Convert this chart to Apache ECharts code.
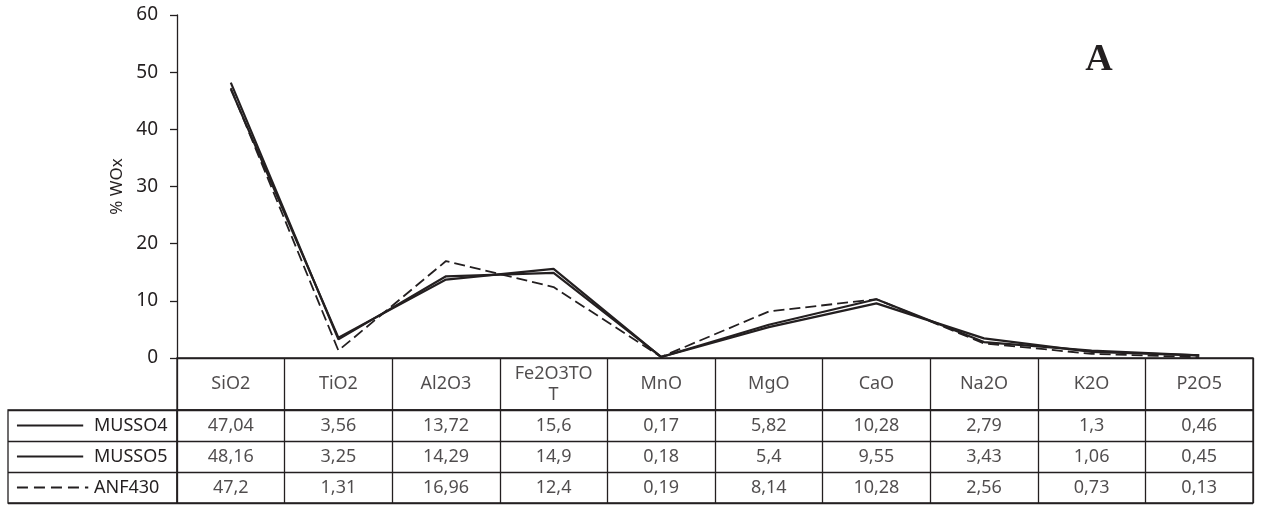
<!DOCTYPE html>
<html>
<head>
<meta charset="utf-8">
<title>Oxydes</title>
<script src="https://cdn.jsdelivr.net/npm/echarts@6/dist/echarts.min.js"></script>
<style>
  html, body { margin: 0; padding: 0; background: #ffffff; }
  #chart { width: 1263px; height: 505px; }
</style>
</head>
<body>
<div id="chart"></div>
<script>
// données du tableau
const categories = ['SiO2', 'TiO2', 'Al2O3', 'Fe2O3TOT', 'MnO', 'MgO', 'CaO', 'Na2O', 'K2O', 'P2O5'];
const sampleNames = ['MUSSO4', 'MUSSO5', 'ANF430'];
const musso4 = [47.04, 3.56, 13.72, 15.6, 0.17, 5.82, 10.28, 2.79, 1.3, 0.46];
const musso5 = [48.16, 3.25, 14.29, 14.9, 0.18, 5.4, 9.55, 3.43, 1.06, 0.45];
const anf430 = [47.2, 1.31, 16.96, 12.4, 0.19, 8.14, 10.28, 2.56, 0.73, 0.13];
const yTicks = [0, 10, 20, 30, 40, 50, 60];

const sampleValues = [musso4, musso5, anf430];
const ink = '#231f20';
const font = 'Noto Sans';
const lineStyles = [
  { type: 'solid', width: 2.2 },
  { type: 'solid', width: 2.2 },
  { type: [11, 5], width: 1.8 }
];

const chart = echarts.init(document.getElementById('chart'));

// courbes
const lineSeries = sampleNames.map((name, i) => ({
  name: name,
  type: 'line',
  xAxisIndex: 0,
  yAxisIndex: 0,
  symbol: 'none',
  data: sampleValues[i],
  lineStyle: { color: ink, width: lineStyles[i].width, type: lineStyles[i].type },
  z: 5
}));

// en-tête du tableau
const headerSeries = {
  type: 'scatter',
  xAxisIndex: 1,
  yAxisIndex: 1,
  symbolSize: 1,
  itemStyle: { color: 'rgba(0,0,0,0)' },
  data: categories.map(c => [c, 0.5]),
  label: {
    show: true,
    position: 'inside',
    color: ink,
    fontFamily: font,
    fontSize: 18,
    lineHeight: 21,
    formatter: p => {
      const s = p.value[0];
      return s.length > 7 ? s.slice(0, 7) + '\n' + s.slice(7) : s;
    }
  },
  silent: true
};

// valeurs du tableau
const cellSeries = sampleNames.map((name, i) => ({
  type: 'scatter',
  xAxisIndex: 2,
  yAxisIndex: 2,
  symbolSize: 1,
  itemStyle: { color: 'rgba(0,0,0,0)' },
  data: categories.map((c, j) => [c, name, sampleValues[i][j]]),
  label: {
    show: true,
    position: 'inside',
    color: ink,
    fontFamily: font,
    fontSize: 18,
    formatter: p => String(p.value[2]).replace('.', ',')
  },
  silent: true
}));

// traits de légende
const keySeries = sampleNames.map((name, i) => ({
  type: 'line',
  xAxisIndex: 3,
  yAxisIndex: 3,
  symbol: 'none',
  data: i === 2 ? [[0.053, name], [0.475, name]] : [[0.053, name], [0.445, name]],
  lineStyle: { color: ink, width: 1.8, type: i === 2 ? [11, 6] : 'solid' },
  silent: true
}));

const borderStyle = { show: true, lineStyle: { color: ink, width: 1.3 } };

chart.setOption({
  animation: false,
  textStyle: { fontFamily: font },
  grid: [
    { left: 177, right: 10, top: 15, bottom: 147 },
    { left: 177, right: 10, top: 358, height: 52, show: true, borderColor: ink, borderWidth: 1.3 },
    { left: 177, right: 10, top: 410, height: 93, show: true, borderColor: ink, borderWidth: 1.3 },
    { left: 8, width: 169, top: 410, height: 93, show: true, borderColor: ink, borderWidth: 1.3 }
  ],
  xAxis: [
    {
      gridIndex: 0, type: 'category', data: categories, boundaryGap: true,
      axisLine: { show: true, lineStyle: { color: ink, width: 1.3 } },
      axisTick: { show: false }, axisLabel: { show: false }
    },
    {
      gridIndex: 1, type: 'category', data: categories, boundaryGap: true,
      axisLine: { show: false }, axisTick: { show: false }, axisLabel: { show: false },
      splitLine: borderStyle
    },
    {
      gridIndex: 2, type: 'category', data: categories, boundaryGap: true,
      axisLine: { show: false }, axisTick: { show: false }, axisLabel: { show: false },
      splitLine: borderStyle
    },
    {
      gridIndex: 3, type: 'value', min: 0, max: 1, show: false
    }
  ],
  yAxis: [
    {
      gridIndex: 0, type: 'value', min: yTicks[0], max: yTicks[yTicks.length - 1], interval: 10,
      name: '% WOx', nameLocation: 'middle', nameGap: 50, nameRotate: 90,
      nameTextStyle: { color: ink, fontFamily: font, fontSize: 17 },
      axisLine: { show: true, lineStyle: { color: ink, width: 1.3 } },
      axisTick: { show: true, length: 7, lineStyle: { color: ink, width: 1.3 } },
      axisLabel: { color: ink, fontFamily: font, fontSize: 19, margin: 19 },
      splitLine: { show: false }
    },
    {
      gridIndex: 1, type: 'value', min: 0, max: 1, show: false
    },
    {
      gridIndex: 2, type: 'category', data: sampleNames, inverse: true,
      axisLine: { show: false }, axisTick: { show: false },
      axisLabel: { color: ink, fontFamily: font, fontSize: 18, margin: 83, align: 'left' },
      splitLine: borderStyle
    },
    {
      gridIndex: 3, type: 'category', data: sampleNames, inverse: true,
      axisLine: { show: false }, axisTick: { show: false }, axisLabel: { show: false },
      splitLine: borderStyle
    }
  ],
  graphic: [
    {
      type: 'text',
      x: 1099,
      y: 60,
      style: {
        text: 'A',
        fill: ink,
        font: 'bold 38px "Liberation Serif"',
        align: 'center',
        verticalAlign: 'middle'
      }
    }
  ],
  series: [...lineSeries, headerSeries, ...cellSeries, ...keySeries]
});
</script>
</body>
</html>
